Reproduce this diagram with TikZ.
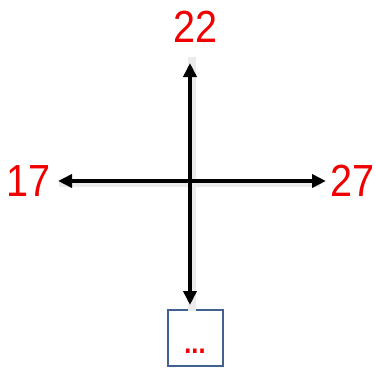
\documentclass[tikz,border=0pt]{standalone}
\usepackage{fontspec}
\setmainfont{Liberation Sans}
\usetikzlibrary{arrows.meta}
\definecolor{numred}{HTML}{F00000}
\definecolor{boxblue}{HTML}{41628F}
\tikzset{
  num/.style={text=numred, font=\fontsize{45}{45}\selectfont, inner sep=0pt, xscale=0.88},
  axis/.style={line width=4pt, -{Triangle[length=14pt,width=13pt]}, black},
  shadowline/.style={line width=8pt, black!8},
  answerbox/.style={draw=boxblue, line width=2pt, minimum width=55pt, minimum height=56pt, inner sep=0pt}
}
\begin{document}
\begin{tikzpicture}[x=1pt,y=-1pt]
\useasboundingbox (0,0) rectangle (376,370);
\fill[white] (0,0) rectangle (376,370);
\coordinate (c) at (190,181);
\coordinate (t) at (190,63);
\coordinate (l) at (58,181);
\coordinate (r) at (326,181);
\coordinate (d) at (190,305);
\node[answerbox] (box) at (195,337.5) {};
\node[text=numred, font=\bfseries\fontsize{30}{30}\selectfont, inner sep=0pt, xscale=0.85] (dots) at (195,351) {...};
\node[num] (n22) at (196,27) {22};
\node[num] (n17) at (29,181) {17};
\node[num] (n27) at (353,181) {27};
% soft shadow
\draw[shadowline] ([xshift=1pt,yshift=-2pt]l) -- ([xshift=-6pt,yshift=-2pt]r);
\draw[shadowline] ([xshift=2pt,yshift=6pt]t) -- ([xshift=2pt,yshift=-6pt]d);
% axes
\draw[axis] (c) -- (t);
\draw[axis] (c) -- (d);
\draw[axis] (c) -- (l);
\draw[axis] (c) -- (r);
\end{tikzpicture}
\end{document}
